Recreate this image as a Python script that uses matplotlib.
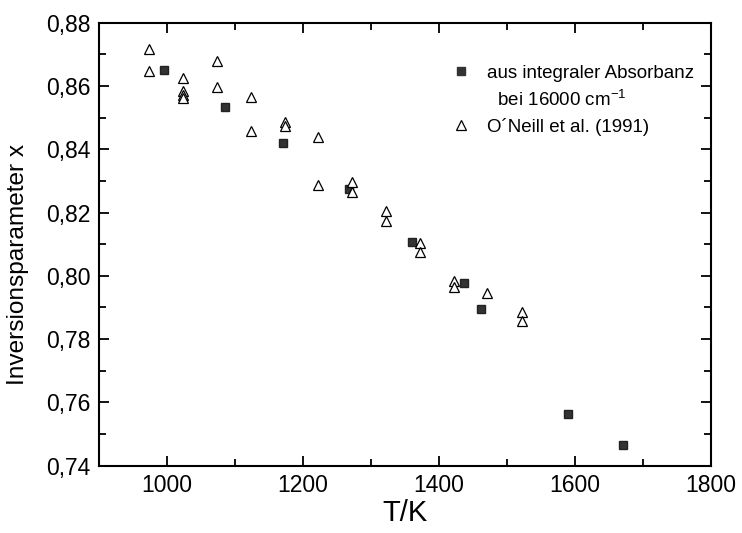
#!/usr/bin/env python3

import matplotlib
matplotlib.use("Agg")
import matplotlib.pyplot as plt
from matplotlib.lines import Line2D
from matplotlib.ticker import MultipleLocator, FuncFormatter

# own measurements, integral absorbance at 16000 cm-1
T_abs = [995, 1085, 1170, 1267, 1361, 1437, 1462, 1590, 1670]
x_abs = [0.865, 0.8533, 0.8419, 0.8274, 0.8108, 0.7976, 0.7895, 0.7563, 0.7466]

# O'Neill et al. (1991)
T_on = [973, 973, 1023, 1023, 1023, 1023, 1073, 1073, 1123, 1123, 1174, 1174,
        1222, 1222, 1272, 1272, 1322, 1322, 1372, 1372, 1422, 1422, 1471, 1522, 1522]
x_on = [0.8716, 0.8646, 0.8626, 0.8585, 0.8572, 0.8563, 0.8678, 0.8596, 0.8566, 0.8457,
        0.8486, 0.8474, 0.8438, 0.8286, 0.8297, 0.8265, 0.8206, 0.8174, 0.8105, 0.8076,
        0.7985, 0.7966, 0.7947, 0.7887, 0.7857]

labels = ["aus integraler Absorbanz", "  bei 16000 cm$^{-1}$", "O\u00b4Neill et al. (1991)"]

plt.rcParams['font.family'] = ['Liberation Sans', 'DejaVu Sans']
plt.rcParams['mathtext.fontset'] = 'custom'
plt.rcParams['mathtext.rm'] = 'Liberation Sans'

fig = plt.figure(figsize=(7.42, 5.33), dpi=100)
ax = fig.add_axes([0.1334, 0.1263, 0.8248, 0.8311])

ax.plot(T_abs, x_abs, ls='none', marker='s', ms=6, color='#333333', mec='#222222')
ax.plot(T_on, x_on, ls='none', marker='^', ms=7.5, mfc='white', mec='black', mew=0.9)

ax.set_xlim(900, 1800)
ax.set_ylim(0.74, 0.88)
ax.xaxis.set_major_locator(MultipleLocator(200))
ax.xaxis.set_minor_locator(MultipleLocator(100))
ax.yaxis.set_major_locator(MultipleLocator(0.02))
ax.yaxis.set_minor_locator(MultipleLocator(0.01))
ax.yaxis.set_major_formatter(FuncFormatter(lambda v, p: f"{v:.2f}".replace('.', ',')))
ax.xaxis.set_major_formatter(FuncFormatter(lambda v, p: "" if v == 900 else f"{v:.0f}"))

ax.tick_params(which='both', direction='in', top=True, right=True, width=1.3)
ax.tick_params(which='major', length=7, labelsize=16.5, pad=6)
ax.tick_params(which='minor', length=5)
for s in ax.spines.values():
    s.set_linewidth(1.5)

ax.set_xlabel("T/K", fontsize=21)
ax.xaxis.set_label_coords(0.5, -0.075)
ax.set_ylabel("Inversionsparameter x", fontsize=17.6)
ax.yaxis.set_label_coords(-0.114, 0.455)

handles = [
    Line2D([], [], ls='none', marker='s', ms=6, color='#333333'),
    Line2D([], [], ls='none', marker=None),
    Line2D([], [], ls='none', marker='^', ms=7, mfc='white', mec='black', mew=0.9),
]
ax.legend(handles, labels, loc='upper left', bbox_to_anchor=(0.555, 0.935),
          frameon=False, fontsize=13.5, handlelength=1.0, handletextpad=0.9,
          labelspacing=0.4, borderpad=0.2)

fig.savefig("out.png", dpi=100)
